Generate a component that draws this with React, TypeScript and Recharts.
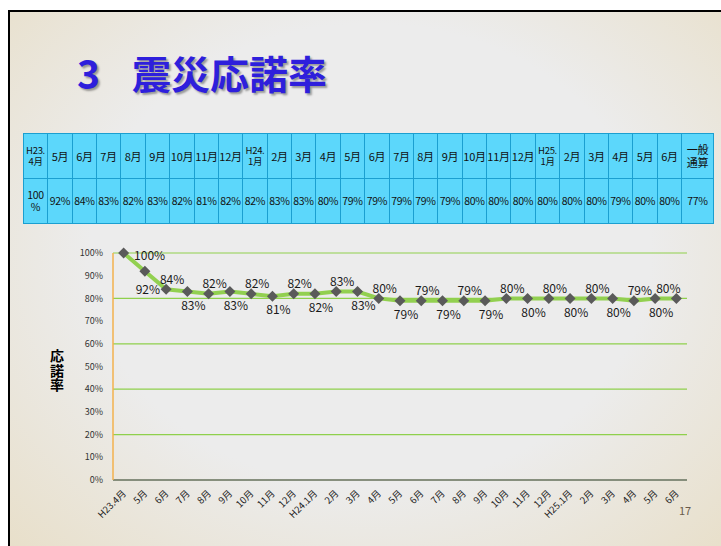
import { CartesianGrid, Line, LineChart, XAxis, YAxis } from 'recharts'

const months = [
  'H23.4月', '5月', '6月', '7月', '8月', '9月', '10月', '11月', '12月',
  'H24.1月', '2月', '3月', '4月', '5月', '6月', '7月', '8月', '9月', '10月', '11月', '12月',
  'H25.1月', '2月', '3月', '4月', '5月', '6月',
]
const rates = [100, 92, 84, 83, 82, 83, 82, 81, 82, 82, 83, 83, 80, 79, 79, 79, 79, 79, 80, 80, 80, 80, 80, 80, 79, 80, 80]
const yTicks = [0, 10, 20, 30, 40, 50, 60, 70, 80, 90, 100]

// table header cells (line breaks as in the slide)
const tableHeads = [
  'H23.\n4月', '5月', '6月', '7月', '8月', '9月', '10月', '11月', '12月',
  'H24.\n1月', '2月', '3月', '4月', '5月', '6月', '7月', '8月', '9月', '10月', '11月', '12月',
  'H25.\n1月', '2月', '3月', '4月', '5月', '6月', '一般\n通算',
]
const tableVals = [
  '100\n%', '92%', '84%', '83%', '82%', '83%', '82%', '81%', '82%', '82%', '83%', '83%', '80%', '79%',
  '79%', '79%', '79%', '79%', '80%', '80%', '80%', '80%', '80%', '80%', '79%', '80%', '80%', '77%',
]

const font = '"Noto Sans CJK JP", "Noto Sans", sans-serif'

const chartData = months.map((m, i) => ({ month: m, rate: rates[i] }))

function Diamond(props: any) {
  const { cx, cy, index } = props
  if (cx == null || cy == null) return null
  const r = 5.5
  return (
    <path
      key={`d-${index}`}
      d={`M${cx},${cy - r}L${cx + r},${cy}L${cx},${cy + r}L${cx - r},${cy}Z`}
      fill="#5a5a5a"
    />
  )
}

function RateLabel(props: any) {
  const { x, y, value, index } = props
  let dx = 6
  let dy = index % 2 === 0 ? -9 : 15
  if (index === 0) {
    dx = 26
    dy = 4
  } else if (index === 1) {
    dx = 3
    dy = 20
  } else if (index === rates.length - 1) {
    dx = -8
  }
  return (
    <text
      key={`l-${index}`}
      x={x + dx}
      y={y + dy}
      textAnchor="middle"
      dominantBaseline="middle"
      fontSize={12}
      fontFamily={font}
      fill="#1a1a1a"
    >
      {value}%
    </text>
  )
}

function MonthTick(props: any) {
  const { x, y, payload } = props
  return (
    <text
      x={x + 3}
      y={y + 6}
      textAnchor="end"
      fontSize={9.5}
      fontFamily={font}
      fill="#222"
      transform={`rotate(-45, ${x + 3}, ${y + 6})`}
    >
      {payload.value}
    </text>
  )
}

const COL_W = 24.37
const LAST_W = 32
const colEdges = tableHeads.map((_, i) => Math.round(23 + i * COL_W))
colEdges.push(Math.round(23 + (tableHeads.length - 1) * COL_W + LAST_W))

function cellBox(i: number, top: number, h: number, text: string, size: number) {
  const left = colEdges[i]
  const width = colEdges[i + 1] - left + 1
  return (
    <div
      key={`${top}-${i}`}
      style={{
        position: 'absolute',
        left,
        top,
        width,
        height: h,
        boxSizing: 'border-box',
        border: '1px solid #1b9fd0',
        background: '#5cd7fb',
        display: 'flex',
        alignItems: 'center',
        justifyContent: 'center',
        textAlign: 'center',
        fontSize: size,
        lineHeight: 1.15,
        whiteSpace: 'pre',
        color: '#111',
        letterSpacing: -0.3,
      }}
    >
      {text}
    </div>
  )
}

export default function App() {
  return (
    <div
      style={{
        position: 'absolute',
        left: 0,
        top: 0,
        width: 721,
        height: 546,
        overflow: 'hidden',
        background: '#fff',
        fontFamily: font,
      }}
    >
      <div
        style={{
          position: 'absolute',
          left: 8,
          top: 10,
          width: 720,
          height: 540,
          borderLeft: '2px solid #000',
          borderTop: '2px solid #000',
          background: 'radial-gradient(ellipse at 50% 45%, #ececec 55%, #e8dfc9 100%)',
        }}
      />
      <div
        style={{
          position: 'absolute',
          left: 77,
          top: 53,
          fontSize: 39,
          fontWeight: 700,
          lineHeight: 1,
          color: '#2e1fdc',
          textShadow: '2px 2px 2px rgba(0,0,0,0.35)',
          whiteSpace: 'nowrap',
        }}
      >
        <span>3</span>
        <span style={{ marginLeft: 32 }}>震災応諾率</span>
      </div>

      {tableHeads.map((t, i) =>
        cellBox(i, 133, 46, t, t.includes('\n') && i !== tableHeads.length - 1 ? 9.5 : 11)
      )}
      {tableVals.map((t, i) => cellBox(i, 178, 46, t, 10.5))}

      <div
        style={{
          position: 'absolute',
          left: 49,
          top: 349,
          fontSize: 14,
          fontWeight: 700,
          lineHeight: '15px',
          color: '#000',
          writingMode: 'vertical-rl',
          textOrientation: 'upright',
          letterSpacing: 0.5,
        }}
      >
        応諾率
      </div>

      <div style={{ position: 'absolute', left: 0, top: 230 }}>
        <LineChart
          width={721}
          height={316}
          data={chartData}
          margin={{ top: 23, right: 34, left: 73, bottom: 16 }}
        >
          <CartesianGrid horizontal vertical={false} stroke="#8fd04c" strokeWidth={1.2} />
          <XAxis
            dataKey="month"
            interval={0}
            height={50}
            padding={{ left: 10.6, right: 10.6 }}
            tick={<MonthTick />}
            tickLine={false}
            axisLine={{ stroke: '#747474', strokeWidth: 1.5 }}
          />
          <YAxis
            domain={[0, 100]}
            ticks={yTicks}
            width={40}
            tickFormatter={(v: number) => `${v}%`}
            tick={{ fontSize: 9, fill: '#333', fontFamily: font }}
            tickLine={false}
            tickSize={6}
            tickMargin={4}
            axisLine={{ stroke: '#f3b24e', strokeWidth: 1.5 }}
          />
          <Line
            dataKey="rate"
            stroke="#92d050"
            strokeWidth={4}
            dot={Diamond}
            activeDot={false}
            label={RateLabel}
            isAnimationActive={false}
          />
        </LineChart>
      </div>

      <div
        style={{
          position: 'absolute',
          left: 679,
          top: 502,
          fontSize: 11,
          color: '#6a5b4c',
        }}
      >
        17
      </div>
    </div>
  )
}
